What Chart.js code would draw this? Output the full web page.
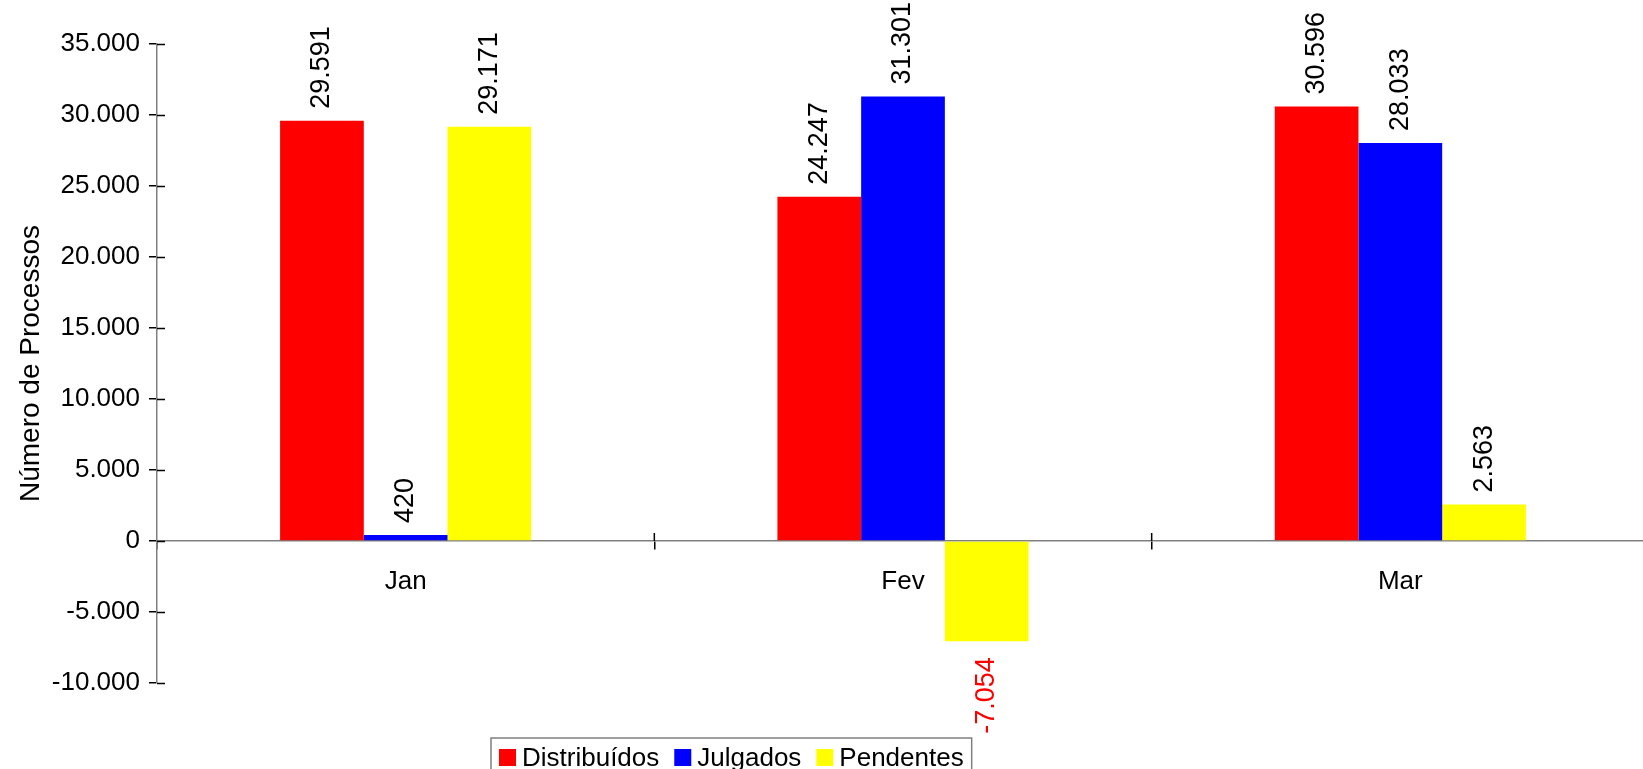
<!DOCTYPE html>
<html>
<head>
<meta charset="utf-8">
<script src="https://cdn.jsdelivr.net/npm/chart.js@4.4.1/dist/chart.umd.min.js"></script>
<style>
  html, body { margin: 0; padding: 0; background: #fff; overflow: hidden; }
  #wrap { width: 1649px; height: 769px; position: relative; }
</style>
</head>
<body>
<div id="wrap"><canvas id="chart"></canvas></div>
<script>
const categories = ['Jan', 'Fev', 'Mar'];
const seriesNames = ['Distribuídos', 'Julgados', 'Pendentes'];
const distribuidos = [29591, 24247, 30596];
const julgados = [420, 31301, 28033];
const pendentes = [29171, -7054, 2563];
const yMin = -10000;
const yMax = 35000;
const yStep = 5000;

const FONT = "'Liberation Sans', Arial, sans-serif";
const colors = ['#ff0000', '#0000ff', '#ffff00'];

function fmt(v) {
  const s = String(Math.abs(v)).replace(/\B(?=(\d{3})+(?!\d))/g, '.');
  return v < 0 ? '-' + s : s;
}

// value labels, rotated like the original
const valueLabels = {
  id: 'valueLabels',
  afterDatasetsDraw(chart) {
    const ctx = chart.ctx;
    ctx.save();
    ctx.font = '27px ' + FONT;
    ctx.textBaseline = 'middle';
    chart.data.datasets.forEach((ds, i) => {
      chart.getDatasetMeta(i).data.forEach((bar, j) => {
        const v = ds.data[j];
        ctx.save();
        if (v >= 0) {
          ctx.translate(bar.x, bar.y - 12);
          ctx.rotate(-Math.PI / 2);
          ctx.textAlign = 'left';
          ctx.fillStyle = '#000';
        } else {
          ctx.translate(bar.x, bar.y + 16);
          ctx.rotate(-Math.PI / 2);
          ctx.textAlign = 'right';
          ctx.fillStyle = '#ff0000';
        }
        ctx.fillText(fmt(v), 0, 0);
        ctx.restore();
      });
    });
    ctx.restore();
  }
};

// tick marks that cross the axis lines, plus legend box
const extras = {
  id: 'extras',
  afterDraw(chart) {
    const ctx = chart.ctx;
    const y = chart.scales.y;
    const x = chart.scales.x;
    const zeroY = y.getPixelForValue(0);
    ctx.save();
    ctx.strokeStyle = '#000';
    ctx.lineWidth = 1.5;
    ctx.beginPath();
    y.ticks.forEach(t => {
      const py = Math.round(y.getPixelForValue(t.value)) + 0.5;
      ctx.moveTo(y.right, py);
      ctx.lineTo(y.right + 8, py);
    });
    for (let i = 1; i < categories.length; i++) {
      const px = (x.getPixelForValue(i - 1) + x.getPixelForValue(i)) / 2;
      ctx.moveTo(px, zeroY - 8);
      ctx.lineTo(px, zeroY);
    }
    ctx.stroke();

    // legend
    ctx.font = '26px ' + FONT;
    ctx.textBaseline = 'alphabetic';
    ctx.textAlign = 'left';
    const boxLeft = 491, boxTop = 738;
    let cx = boxLeft + 8;
    const items = chart.data.datasets.map(d => ({ label: d.label, color: d.backgroundColor }));
    items.forEach((it, i) => {
      ctx.fillStyle = it.color;
      ctx.fillRect(cx, 749, 17, 17);
      cx += 17 + 6;
      ctx.fillStyle = '#000';
      ctx.fillText(it.label, cx, 766);
      cx += ctx.measureText(it.label).width + (i < items.length - 1 ? 15 : 8);
    });
    ctx.strokeStyle = '#808080';
    ctx.lineWidth = 1.5;
    ctx.strokeRect(boxLeft, boxTop, cx - boxLeft, 60);
    ctx.restore();
  }
};

new Chart(document.getElementById('chart'), {
  type: 'bar',
  data: {
    labels: categories,
    datasets: [
      { label: seriesNames[0], data: distribuidos, backgroundColor: colors[0] },
      { label: seriesNames[1], data: julgados, backgroundColor: colors[1] },
      { label: seriesNames[2], data: pendentes, backgroundColor: colors[2] }
    ]
  },
  options: {
    responsive: true,
    maintainAspectRatio: false,
    animation: false,
    events: [],
    layout: { padding: { top: 44, right: 0, bottom: 86, left: 0 } },
    datasets: { bar: { barPercentage: 1, categoryPercentage: 0.505 } },
    plugins: {
      legend: { display: false },
      tooltip: { enabled: false }
    },
    scales: {
      x: {
        position: { y: 0 },
        z: 1,
        grid: { display: true, drawOnChartArea: false, offset: true, color: '#000', lineWidth: 1.5, tickLength: 8 },
        border: { display: true, color: '#808080', width: 1.5 },
        ticks: { color: '#000', padding: 17, font: { family: FONT, size: 26 } }
      },
      y: {
        min: yMin,
        max: yMax,
        afterFit(scale) { scale.width = 157; },
        grid: { drawOnChartArea: false, color: '#000', lineWidth: 1.5, tickLength: 8 },
        border: { display: true, color: '#808080', width: 1.5 },
        ticks: {
          stepSize: yStep,
          color: '#000',
          padding: 9,
          font: { family: FONT, size: 26 },
          callback: v => fmt(v)
        },
        title: {
          display: true,
          text: 'Número de Processos',
          color: '#000',
          padding: { top: 14, bottom: 0 },
          font: { family: FONT, size: 28 }
        }
      }
    }
  },
  plugins: [valueLabels, extras]
});
</script>
</body>
</html>
